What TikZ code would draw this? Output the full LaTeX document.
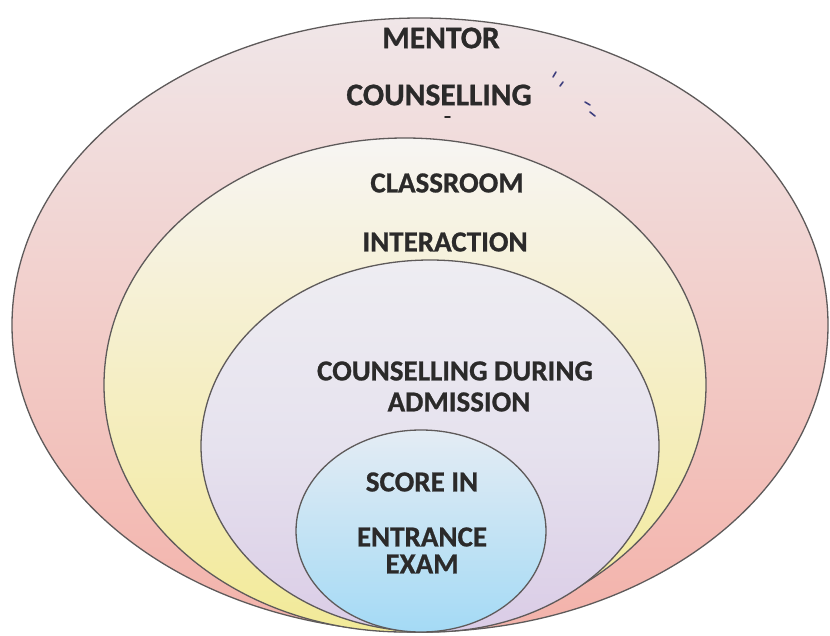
\documentclass[tikz,border=0pt]{standalone}
\usepackage{fontspec}
\setmainfont{Carlito}[BoldFeatures={FakeBold=0.8}]
\usetikzlibrary{shapes.geometric}
\definecolor{rimc}{HTML}{5E5A5A}
\definecolor{txtc}{HTML}{2B2A2A}
\definecolor{pinkT}{HTML}{F0E6E8}
\definecolor{pinkM}{HTML}{F2CDC9}
\definecolor{pinkB}{HTML}{F3B2AA}
\definecolor{yelT}{HTML}{F7F5F3}
\definecolor{yelM}{HTML}{F5EEC4}
\definecolor{yelB}{HTML}{F2EA98}
\definecolor{lavT}{HTML}{EEEDF2}
\definecolor{lavM}{HTML}{E6E2EE}
\definecolor{lavB}{HTML}{DACCE6}
\definecolor{bluT}{HTML}{E4ECF4}
\definecolor{bluM}{HTML}{C4E3F4}
\definecolor{bluB}{HTML}{A4DAF5}
\definecolor{markc}{HTML}{3E3F7E}
\tikzset{
  ring/.style={ellipse, draw=rimc, line width=1.3pt, inner sep=0pt},
  lbl/.style={text=txtc, font=\bfseries\fontsize{29}{30}\selectfont, inner sep=0pt, align=center},
  biglbl/.style={lbl, font=\bfseries\fontsize{31.5}{32}\selectfont},
  speck/.style={draw=markc, line width=1.6pt, line cap=round}
}
\begin{document}
\begin{tikzpicture}[x=1pt,y=-1pt]
\useasboundingbox (0,0) rectangle (830,635);
\fill[white] (0,0) rectangle (830,635);
% nested ellipses
\node[ring, minimum width=816pt, minimum height=614pt, top color=pinkT, bottom color=pinkB, middle color=pinkM] (outer) at (420,325) {};
\node[ring, minimum width=602pt, minimum height=494pt, top color=yelT, bottom color=yelB, middle color=yelM] (yel) at (405,385) {};
\node[ring, minimum width=458pt, minimum height=372pt, top color=lavT, bottom color=lavB, middle color=lavM] (lav) at (430,446) {};
\node[ring, minimum width=250pt, minimum height=202pt, top color=bluT, bottom color=bluB, middle color=bluM] (blu) at (421,531) {};
% labels
\node[biglbl] (t1) at (441,38) {MENTOR};
\node[biglbl] (t2) at (439,95) {COUNSELLING};
\node[lbl] (t3) at (447,183) {CLASSROOM};
\node[lbl] (t4) at (445,242) {INTERACTION};
\node[lbl] (t5) at (455,371) {COUNSELLING DURING};
\node[lbl] (t6) at (459,402) {ADMISSION};
\node[lbl] (t7) at (422,482) {SCORE IN};
\node[lbl] (t8) at (422,537) {ENTRANCE};
\node[lbl] (t9) at (422,564) {EXAM};
% stray scan marks
\coordinate (m1a) at (553,77); \coordinate (m1b) at (556,72);
\coordinate (m2a) at (560,86); \coordinate (m2b) at (563,82);
\coordinate (m3a) at (585,102); \coordinate (m3b) at (590,105);
\coordinate (m4a) at (590,112); \coordinate (m4b) at (595,116);
\coordinate (m5a) at (445,117); \coordinate (m5b) at (450,117);
\draw[speck] (m1a) -- (m1b);
\draw[speck] (m2a) -- (m2b);
\draw[speck] (m3a) -- (m3b);
\draw[speck] (m4a) -- (m4b);
\draw[speck, draw=txtc] (m5a) -- (m5b);
\end{tikzpicture}
\end{document}
